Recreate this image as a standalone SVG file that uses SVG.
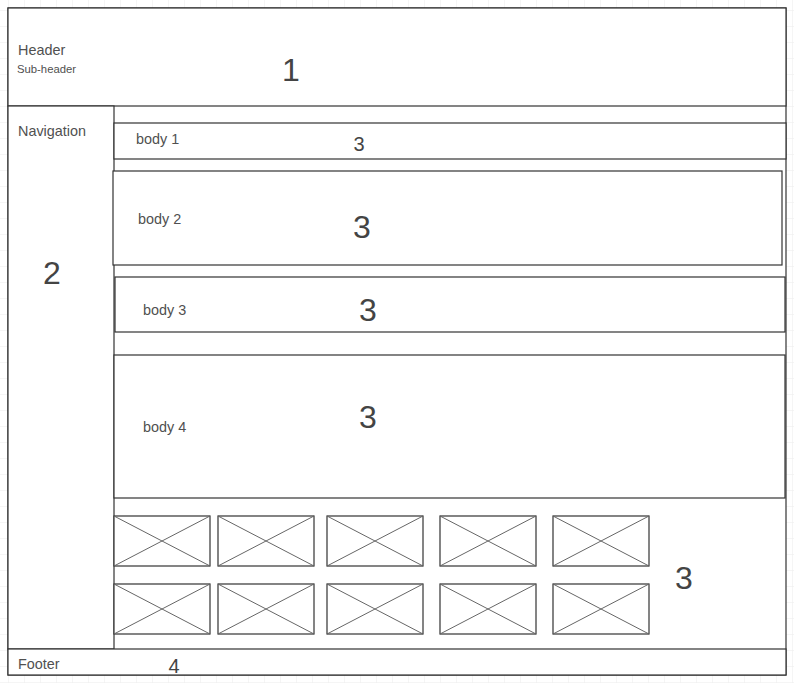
<svg xmlns="http://www.w3.org/2000/svg" width="794" height="683" viewBox="0 0 794 683">
<defs>
<pattern id="grid" x="8" y="10" width="16" height="16" patternUnits="userSpaceOnUse">
<path d="M0 0H16M0 0V16" fill="none" stroke="#ebebeb" stroke-width="1"/>
</pattern>
<style>
.box{fill:#ffffff;stroke:#333333;stroke-width:1.2}
.img{fill:#ffffff;stroke:#333333;stroke-width:1.2}
.x{stroke:#666666;stroke-width:1;fill:none}
.t{font-family:"Liberation Sans",Arial,sans-serif;fill:#505050;font-size:14.4px}
.s{font-family:"Liberation Sans",Arial,sans-serif;fill:#505050;font-size:11.3px}
.big{font-family:"Liberation Sans",Arial,sans-serif;fill:#444444;font-size:32px;text-anchor:middle}
.mid{font-family:"Liberation Sans",Arial,sans-serif;fill:#444444;font-size:20px;text-anchor:middle}
</style>
<g id="ph">
<rect class="img" x="0" y="0" width="96" height="50"/>
<path class="x" d="M0 0L96 50M96 0L0 50"/>
</g>
</defs>
<rect width="794" height="683" fill="#ffffff"/>
<rect width="794" height="683" fill="url(#grid)"/>
<g id="frame">
<rect class="box" x="8" y="8" width="778" height="667"/>
</g>
<g id="header">
<rect class="box" x="8" y="8" width="778" height="98"/>
<text class="t" x="18" y="55">Header</text>
<text class="s" x="17" y="73">Sub-header</text>
<text class="big" x="291" y="81">1</text>
</g>
<g id="navigation">
<rect class="box" x="8" y="106" width="106" height="543"/>
<text class="t" x="18" y="136">Navigation</text>
<text class="big" x="52" y="284">2</text>
</g>
<g id="body1">
<rect class="box" x="114" y="123" width="672" height="36"/>
<text class="t" x="136" y="144">body 1</text>
<text class="mid" x="359" y="151">3</text>
</g>
<g id="body2">
<rect class="box" x="113" y="171" width="669" height="94"/>
<text class="t" x="138" y="224">body 2</text>
<text class="big" x="362" y="238">3</text>
</g>
<g id="body3">
<rect class="box" x="115" y="277" width="670" height="55"/>
<text class="t" x="143" y="315">body 3</text>
<text class="big" x="368" y="321">3</text>
</g>
<g id="body4">
<rect class="box" x="114" y="355" width="671" height="143"/>
<text class="t" x="143" y="432">body 4</text>
<text class="big" x="368" y="428">3</text>
</g>
<g id="images">
<use href="#ph" x="114" y="516"/>
<use href="#ph" x="218" y="516"/>
<use href="#ph" x="327" y="516"/>
<use href="#ph" x="440" y="516"/>
<use href="#ph" x="553" y="516"/>
<use href="#ph" x="114" y="584"/>
<use href="#ph" x="218" y="584"/>
<use href="#ph" x="327" y="584"/>
<use href="#ph" x="440" y="584"/>
<use href="#ph" x="553" y="584"/>
<text class="big" x="684" y="589">3</text>
</g>
<g id="footer">
<rect class="box" x="8" y="649" width="778" height="26"/>
<text class="t" x="18" y="669">Footer</text>
<text class="mid" x="174" y="673">4</text>
</g>
<g id="connectors"></g>
</svg>
